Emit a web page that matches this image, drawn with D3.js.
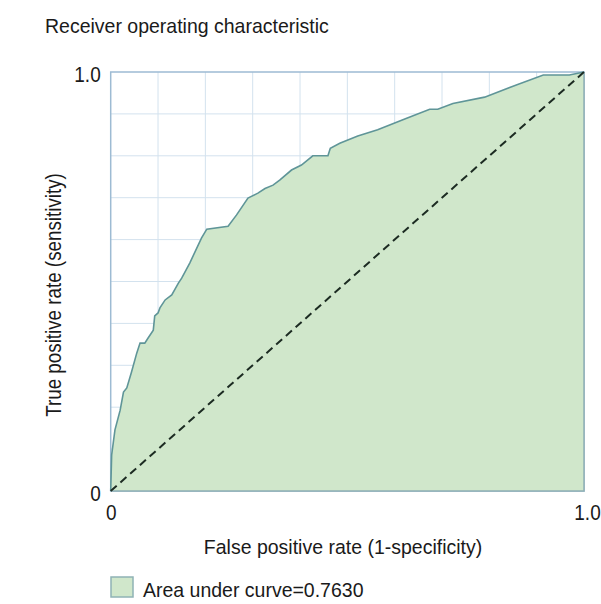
<!DOCTYPE html>
<html>
<head>
<meta charset="utf-8">
<script src="https://cdn.jsdelivr.net/npm/d3@7"></script>
<style>
  body { margin: 0; background: #ffffff; }
  text { font-family: "Liberation Sans", Arial, Helvetica, sans-serif; fill: #1a1a1a; }
</style>
</head>
<body>
<svg id="chart" width="601" height="604"></svg>
<script>
// ROC curve points
const fpr = [0, 0.002, 0.009, 0.020, 0.027, 0.034, 0.044, 0.055, 0.062, 0.072, 0.079, 0.090, 0.093,
  0.100, 0.104, 0.115, 0.129, 0.143, 0.150, 0.167, 0.192, 0.203, 0.248, 0.266, 0.290, 0.311, 0.326,
  0.343, 0.357, 0.382, 0.403, 0.427, 0.459, 0.464, 0.484, 0.522, 0.564, 0.624, 0.674, 0.691, 0.723,
  0.790, 0.857, 0.914, 0.969, 1];
const tpr = [0, 0.086, 0.146, 0.193, 0.236, 0.246, 0.284, 0.329, 0.353, 0.353, 0.365, 0.384, 0.418,
  0.425, 0.437, 0.456, 0.468, 0.496, 0.508, 0.544, 0.604, 0.625, 0.632, 0.659, 0.699, 0.711, 0.722,
  0.730, 0.742, 0.766, 0.778, 0.800, 0.800, 0.818, 0.830, 0.847, 0.862, 0.889, 0.911, 0.911, 0.925,
  0.940, 0.969, 0.993, 0.993, 1];
const axisTicks = [0, 1];
const tickLabels = ["0", "1.0"];
const title = "Receiver operating characteristic";
const xLabel = "False positive rate (1-specificity)";
const yLabel = "True positive rate (sensitivity)";
const legendLabel = "Area under curve=0.7630";

const rocData = fpr.map((x, i) => ({ x: x, y: tpr[i] }));

const fillColor = "#d0e7cb";
const lineColor = "#5f9598";

const xScale = d3.scaleLinear().domain([0, 1]).range([110.7, 584]);
const yScale = d3.scaleLinear().domain([0, 1]).range([491, 72]);

const chart = d3.select("#chart");

// grid
chart
  .append("g")
  .selectAll("line")
  .data(xScale.ticks(10).slice(1, -1))
  .enter()
  .append("line")
  .attr("x1", (d) => xScale(d))
  .attr("x2", (d) => xScale(d))
  .attr("y1", yScale(0))
  .attr("y2", yScale(1))
  .attr("stroke", "#d3e2ee")
  .attr("stroke-width", 1);

chart
  .append("g")
  .selectAll("line")
  .data(yScale.ticks(10).slice(1, -1))
  .enter()
  .append("line")
  .attr("x1", xScale(0))
  .attr("x2", xScale(1))
  .attr("y1", (d) => yScale(d))
  .attr("y2", (d) => yScale(d))
  .attr("stroke", "#d3e2ee")
  .attr("stroke-width", 1);

// plot frame
chart
  .append("rect")
  .attr("x", xScale(0))
  .attr("y", yScale(1))
  .attr("width", xScale(1) - xScale(0))
  .attr("height", yScale(0) - yScale(1))
  .attr("fill", "none")
  .attr("stroke", "#9dbbd3")
  .attr("stroke-width", 1.5);

// area under the curve
const area = d3
  .area()
  .x((d) => xScale(d.x))
  .y0(yScale(0))
  .y1((d) => yScale(d.y));

chart
  .append("path")
  .datum(rocData)
  .attr("d", area)
  .attr("fill", fillColor)
  .attr("stroke", "none");

const line = d3
  .line()
  .x((d) => xScale(d.x))
  .y((d) => yScale(d.y));

chart
  .append("path")
  .datum(rocData)
  .attr("d", line)
  .attr("fill", "none")
  .attr("stroke", lineColor)
  .attr("stroke-width", 1.6);

// right and bottom edge of the filled region
chart
  .append("path")
  .attr("d", `M${xScale(1)},${yScale(1)}V${yScale(0)}H${xScale(0)}`)
  .attr("fill", "none")
  .attr("stroke", "#8fb0b5")
  .attr("stroke-width", 1.5);

// chance diagonal
chart
  .append("line")
  .attr("x1", xScale(0))
  .attr("y1", yScale(0))
  .attr("x2", xScale(1))
  .attr("y2", yScale(1))
  .attr("stroke", "#1c2b22")
  .attr("stroke-width", 2)
  .attr("stroke-dasharray", "8,5");

// axes (labels in the picture are a bit taller than Arial, so stretch them)
const fmt = (d) => tickLabels[axisTicks.indexOf(d)];
const xAxis = d3.axisBottom(xScale).tickValues(axisTicks).tickFormat(fmt).tickSize(0);
const yAxis = d3.axisLeft(yScale).tickValues(axisTicks).tickFormat(fmt).tickSize(0).tickPadding(10);

const gx = chart.append("g").attr("transform", `translate(0, ${yScale(0)})`).call(xAxis);
const gy = chart.append("g").attr("transform", `translate(${xScale(0)}, 0)`).call(yAxis);
[gx, gy].forEach((g) => {
  g.select(".domain").remove();
  g.selectAll("text").style("font-size", "19px").attr("fill", "#1a1a1a")
    .style("font-family", '"Liberation Sans", Arial, sans-serif');
});
gx.selectAll(".tick text")
  .attr("y", 0)
  .attr("dy", 0)
  .attr("transform", (d) => `translate(${d === 1 ? 3 : 0}, 29) scale(1, 1.2)`);
gy.selectAll(".tick text")
  .attr("dy", 0)
  .attr("transform", "translate(0, 9.5) scale(1, 1.2)");

// titles
const addText = (x, y, str, size, sy, anchor, rot) =>
  chart
    .append("text")
    .attr("transform", `translate(${x}, ${y})${rot ? " rotate(-90)" : ""} scale(1, ${sy})`)
    .attr("text-anchor", anchor)
    .style("font-size", size + "px")
    .text(str);

addText(45, 33, title, 19.5, 1.08, "start", false);
addText(343, 554, xLabel, 19.5, 1.05, "middle", false);
addText(61, 295, yLabel, 18.8, 1.15, "middle", true);

// legend
chart
  .append("rect")
  .attr("x", 111)
  .attr("y", 577)
  .attr("width", 22)
  .attr("height", 20)
  .attr("fill", fillColor)
  .attr("stroke", "#8fb3b5")
  .attr("stroke-width", 1.5);

addText(143, 596.5, legendLabel, 19.5, 1.08, "start", false);
</script>
</body>
</html>
